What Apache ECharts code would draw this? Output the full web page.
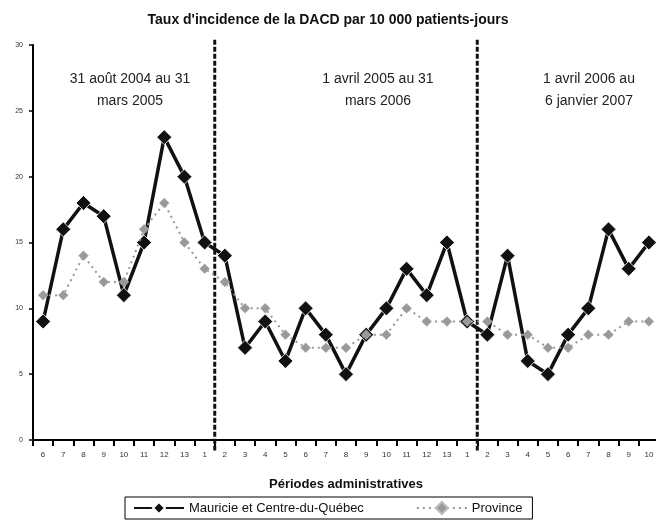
<!DOCTYPE html>
<html><head><meta charset="utf-8">
<script src="https://cdn.jsdelivr.net/npm/echarts@6/dist/echarts.min.js"></script>
<style>html,body{margin:0;padding:0;background:#fff}#c{width:656px;height:523px}</style>
</head><body><div id="c"></div>
<script>
const categories = ['6','7','8','9','10','11','12','13','1','2','3','4','5','6','7','8','9','10','11','12','13','1','2','3','4','5','6','7','8','9','10'];
const mauricie = [9,16,18,17,11,15,23,20,15,14,7,9,6,10,8,5,8,10,13,11,15,9,8,14,6,5,8,10,16,13,15];
const province = [11,11,14,12,12,16,18,15,13,12,10,10,8,7,7,7,8,8,10,9,9,9,9,8,8,7,7,8,8,9,9];
const yTicks = [0,5,10,15,20,25,30];
const dividers = [8.5, 21.5];
const periods = ['31 août 2004 au 31\nmars 2005','1 avril 2005 au 31\nmars 2006','1 avril 2006 au\n6 janvier 2007'];

const font = 'Liberation Sans, Arial, sans-serif';
const chart = echarts.init(document.getElementById('c'), null, {renderer:'canvas'});
const dividerSeries = dividers.map(d => ({
  type:'line', xAxisIndex:1, yAxisIndex:1, data:[[d,30.4],[d,-0.8]],
  symbol:'none', clip:false, silent:true, z:5,
  lineStyle:{color:'#111', width:3, type:[5,2]}
}));
const periodCenters = [130, 378, 589];
chart.setOption({
  animation:false,
  backgroundColor:'#fff',
  textStyle:{fontFamily:font},
  title:{text:"Taux d'incidence de la DACD par 10 000 patients-jours", left:'center', top:8,
    textStyle:{fontSize:14, fontWeight:'bold', color:'#111', fontFamily:font}},
  grid:{left:33, right:-3, top:45, bottom:83, containLabel:false, outerBoundsMode:'none'},
  legend:{left:125, top:497, width:403, padding:[4,10,4,8], itemGap:52, borderColor:'#000', borderWidth:1,
    itemWidth:50, itemHeight:15,
    textStyle:{fontSize:13, color:'#111', fontFamily:font},
    data:['Mauricie et Centre-du-Québec','Province']},
  xAxis:[{type:'category', data:categories, boundaryGap:true,
    name:'Périodes administratives', nameLocation:'middle', nameGap:38,
    nameTextStyle:{fontSize:13, fontWeight:'bold', color:'#111', fontFamily:font},
    axisLine:{onZero:false, lineStyle:{color:'#000', width:2}},
    axisTick:{show:true, length:6, lineStyle:{color:'#000', width:2}},
    axisLabel:{fontSize:8, color:'#333', margin:11, interval:0}},
   {type:'value', min:-0.5, max:30.5, show:false}],
  yAxis:[{type:'value', min:0, max:30, interval:5,
    axisLine:{show:true, onZero:false, lineStyle:{color:'#000', width:2}},
    axisTick:{show:true, length:4, lineStyle:{color:'#000', width:1.5}},
    axisLabel:{fontSize:7, color:'#333', margin:10, formatter:v => yTicks.includes(v) ? String(v) : ''},
    splitLine:{show:false}},
   {type:'value', min:0, max:30, show:false}],
  graphic: periods.map((t,i) => ({
    type:'text', x:periodCenters[i], y:68,
    style:{text:t, font:'14px '+font, fill:'#222', textAlign:'center', textVerticalAlign:'top', lineHeight:22}
  })),
  series:[
    ...dividerSeries,
    {name:'Mauricie et Centre-du-Québec', type:'line', data:mauricie, z:10,
     symbol:'diamond', symbolSize:15,
     lineStyle:{color:'#111', width:3.5}, itemStyle:{color:'#111', borderColor:'#fff', borderWidth:0.8}},
    {name:'Province', type:'line', data:province, z:11,
     symbol:'diamond', symbolSize:10,
     lineStyle:{color:'#999', width:2, type:[2,4]}, itemStyle:{color:'#999', borderColor:'#bbb', borderWidth:0.5}}
  ]
});
</script></body></html>
